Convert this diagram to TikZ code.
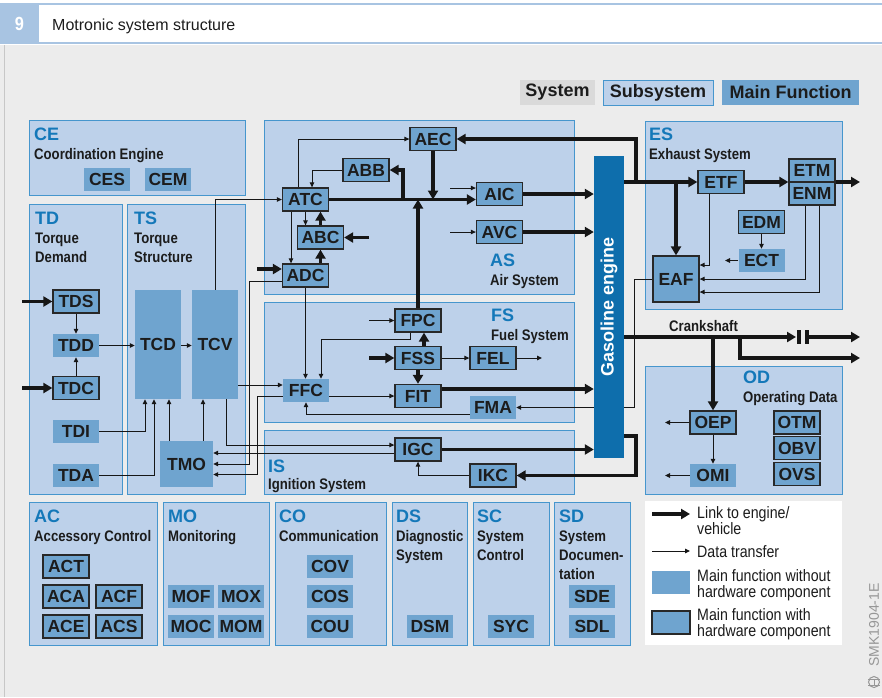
\documentclass[tikz,border=0pt]{standalone}
\usepackage{fontspec}
\setmainfont{Liberation Sans}
\newfontfamily\condfont[FakeStretch=0.86]{Liberation Sans}
\usetikzlibrary{arrows.meta,positioning}
\usepackage{xcolor}

\definecolor{bggray}{RGB}{236,236,236}
\definecolor{subfill}{RGB}{189,209,234}
\definecolor{subline}{RGB}{70,150,205}
\definecolor{mffill}{RGB}{111,164,207}
\definecolor{hwline}{RGB}{40,40,40}
\definecolor{codeblue}{RGB}{20,120,185}
\definecolor{enginec}{RGB}{14,110,172}
\definecolor{textdark}{RGB}{28,28,28}
\definecolor{linkc}{RGB}{22,22,22}
\definecolor{sysgray}{RGB}{218,218,218}
\definecolor{hdrblue}{RGB}{168,196,226}
\definecolor{cgray}{RGB}{150,150,150}

\pgfdeclarelayer{front}
\pgfsetlayers{main,front}

\begin{document}
\begin{tikzpicture}[
        x=1pt, y=-1pt,
        mainfn/.style={fill=mffill, minimum width=46pt, minimum height=23pt, inner sep=0pt, text=textdark, font=\fontsize{17.5}{18}\bfseries},
        mainhw/.style={mainfn, draw=hwline, line width=1.3pt},
        subsys/.style={draw=subline, fill=subfill, line width=0.9pt},
        subcode/.style={anchor=base west, inner sep=0pt, text=codeblue, font=\fontsize{18}{20}\bfseries},
        subname/.style={anchor=base west, inner sep=0pt, align=left, text=textdark, font=\condfont\fontsize{15.3}{19}\bfseries},
        legtext/.style={anchor=base west, inner sep=0pt, align=left, text=textdark, font=\condfont\fontsize{16.5}{16.5}\selectfont},
        toplegend/.style={minimum height=25pt, inner sep=0pt, text=textdark, font=\fontsize{18}{18}\bfseries},
        linkarrow/.style={line width=3.8pt, draw=linkc, -{Triangle[length=9pt,width=10pt]}},
        dataarrow/.style={line width=1pt, draw=linkc, -{Triangle[length=5pt,width=4.5pt]}}
    ]
    \useasboundingbox (0,0) rectangle (882,697);

    % page and header
    \fill[bggray] (0,45) rectangle (882,697);
    \draw[black!22, line width=1.2pt] (4.5,45) -- (4.5,697);
    \draw[hdrblue, line width=1.5pt] (0,4) -- (882,4) (0,43) -- (882,43);
    \fill[hdrblue] (0,4) rectangle (39,43);
    \node (fignum) [text=white, font=\condfont\fontsize{19}{19}\bfseries] at (19.5,24) {9};
    \node (title) [anchor=base west, inner sep=0pt, text=textdark, font=\fontsize{16}{16}\selectfont] at (52,30) {Motronic system structure};

    % top legend
    \node (lgsys) [toplegend, fill=sysgray, minimum width=75pt] at (557.5,92.5) {System};
    \node (lgsub) [toplegend, subsys, minimum width=110pt] at (658,92.5) {Subsystem};
    \node (lgmain) [toplegend, fill=mffill, minimum width=137pt] at (790.5,92.5) {Main Function};

    % subsystems
    \draw[subsys] (29,120) rectangle (245,195);
    \draw[subsys] (29,204) rectangle (122,494);
    \draw[subsys] (127,204) rectangle (245,494);
    \draw[subsys] (264,120) rectangle (574,294);
    \draw[subsys] (264,302) rectangle (574,422);
    \draw[subsys] (264,430) rectangle (574,494);
    \draw[subsys] (645,121) rectangle (842,309);
    \draw[subsys] (645,366) rectangle (842,494);
    \draw[subsys] (29,502) rectangle (157,645);
    \draw[subsys] (163,502) rectangle (269,645);
    \draw[subsys] (275,502) rectangle (386,645);
    \draw[subsys] (392,502) rectangle (467,645);
    \draw[subsys] (473,502) rectangle (549,645);
    \draw[subsys] (554,502) rectangle (630,645);

    % (multi-line names sit on the baseline of their last line)
    \node (ce) [subcode] at (34,140) {CE};
    \node (cename) [subname] at (34,159) {Coordination Engine};
    \node (td) [subcode] at (35,224) {TD};
    \node (tdname) [subname] at (35,262) {Torque\\Demand};
    \node (ts) [subcode] at (134,224) {TS};
    \node (tsname) [subname] at (134,262) {Torque\\Structure};
    \node (as) [subcode] at (490,266) {AS};
    \node (asname) [subname] at (490,285) {Air System};
    \node (fs) [subcode] at (491,321) {FS};
    \node (fsname) [subname] at (491,340) {Fuel System};
    \node (is) [subcode] at (268,472) {IS};
    \node (isname) [subname] at (268,489) {Ignition System};
    \node (es) [subcode] at (649,140) {ES};
    \node (esname) [subname] at (649,159) {Exhaust System};
    \node (od) [subcode] at (743,383) {OD};
    \node (odname) [subname] at (743,402) {Operating Data};
    \node (ac) [subcode] at (34,522) {AC};
    \node (acname) [subname] at (34,541) {Accessory Control};
    \node (mo) [subcode] at (168,522) {MO};
    \node (moname) [subname] at (168,541) {Monitoring};
    \node (co) [subcode] at (279,522) {CO};
    \node (coname) [subname] at (279,541) {Communication};
    \node (ds) [subcode] at (396,522) {DS};
    \node (dsname) [subname] at (396,560) {Diagnostic\\System};
    \node (sc) [subcode] at (477,522) {SC};
    \node (scname) [subname] at (477,560) {System\\Control};
    \node (sd) [subcode] at (559,522) {SD};
    \node (sdname) [subname] at (559,579) {System\\Documen-\\tation};

    % main functions
    \node (ces) [mainfn] at (107,179.5) {CES};
    \node (cem) [mainfn] at (168,179.5) {CEM};
    \node (tds) [mainhw] at (76,301.5) {TDS};
    \node (tdd) [mainfn] at (76,345.5) {TDD};
    \node (tdc) [mainhw] at (76,388) {TDC};
    \node (tdi) [mainfn] at (76,431.5) {TDI};
    \node (tda) [mainfn] at (76,475.5) {TDA};
    \node (tcd) [mainfn, minimum height=109pt] at (158,344.5) {TCD};
    \node (tcv) [mainfn, minimum height=109pt] at (215,344.5) {TCV};
    \node (tmo) [mainfn, minimum width=53pt, minimum height=46pt] at (186.5,464) {TMO};
    \node (aec) [mainhw] at (433,139) {AEC};
    \node (abb) [mainhw] at (366,170) {ABB};
    \node (atc) [mainhw] at (305.5,199.5) {ATC};
    \node (aic) [mainhw] at (499.5,194) {AIC};
    \node (avc) [mainhw] at (499.5,232) {AVC};
    \node (abc) [mainhw] at (320.5,237.5) {ABC};
    \node (adc) [mainhw] at (305.5,275.5) {ADC};
    \node (fpc) [mainhw] at (418,320.5) {FPC};
    \node (fss) [mainhw] at (418,358) {FSS};
    \node (fel) [mainhw] at (493,358) {FEL};
    \node (ffc) [mainfn] at (306,390.5) {FFC};
    \node (fit) [mainhw] at (418,396) {FIT};
    \node (fma) [mainfn] at (493,407.5) {FMA};
    \node (igc) [mainhw] at (418,449.5) {IGC};
    \node (ikc) [mainhw] at (493,475.5) {IKC};
    \node (etf) [mainhw] at (721,182) {ETF};
    \node (etm) [mainhw] at (812,170.5) {ETM};
    \node (enm) [mainhw, below=-1.3pt of etm] {ENM};
    \node (edm) [mainhw] at (761.5,222) {EDM};
    \node (ect) [mainfn] at (761.5,260.5) {ECT};
    \node (eaf) [mainhw, minimum height=46pt] at (676,279) {EAF};
    \node (oep) [mainhw] at (713,422.5) {OEP};
    \node (omi) [mainfn] at (713,475.5) {OMI};
    \node (otm) [mainhw] at (797,422.5) {OTM};
    \node (obv) [mainhw, below=1.5pt of otm] {OBV};
    \node (ovs) [mainhw, below=1.5pt of obv] {OVS};
    \node (act) [mainhw] at (66,566.5) {ACT};
    \node (aca) [mainhw] at (66,596.5) {ACA};
    \node (acf) [mainhw] at (119,596.5) {ACF};
    \node (ace) [mainhw] at (66,626.5) {ACE};
    \node (acs) [mainhw] at (119,626.5) {ACS};
    \node (mof) [mainfn] at (191,596.5) {MOF};
    \node (mox) [mainfn] at (241,596.5) {MOX};
    \node (moc) [mainfn] at (191,626.5) {MOC};
    \node (mom) [mainfn] at (241,626.5) {MOM};
    \node (cov) [mainfn] at (330,566.5) {COV};
    \node (cos) [mainfn] at (330,596.5) {COS};
    \node (cou) [mainfn] at (330,626.5) {COU};
    \node (dsm) [mainfn] at (430,626.5) {DSM};
    \node (syc) [mainfn] at (511,626.5) {SYC};
    \node (sde) [mainfn] at (592,596.5) {SDE};
    \node (sdl) [mainfn] at (592,626.5) {SDL};

    % engine block, kept above the wires
    \begin{pgfonlayer}{front}
    \node (engine) [fill=enginec, minimum width=30pt, minimum height=302pt, inner sep=0pt, text=white, font=\fontsize{18}{18}\bfseries] at (609,307) {\rotatebox{90}{Gasoline engine}};
    \end{pgfonlayer}

    % exhaust path
    \coordinate (exhbend) at (636,182);
    \coordinate (exhout) at (860,182);
    \draw[linkarrow] (engine.east |- etf.west) -- (etf.west);
    \draw[linkarrow] (exhbend) |- (aec.east);
    \draw[linkarrow] (eaf.north |- etf.west) -- (eaf.north);
    \draw[linkarrow] (etf.east) -- (etf.east -| etm.west);
    \draw[linkarrow] (etm.east |- exhout) -- (exhout);
    \draw[dataarrow] ([xshift=-12pt]etf.south) |- ([yshift=14pt]eaf.east);
    \draw[dataarrow] ([xshift=-7pt]enm.south) |- (eaf.east);
    \draw[dataarrow] ([xshift=7pt]enm.south) |- ([yshift=-13pt]eaf.east);
    \draw[dataarrow] (edm.south) -- (ect.north);
    \coordinate (ectout) at (725,260.5);
    \draw[dataarrow] (ect.west) -- (ectout);

    % air system
    \coordinate (abbbend) at (403,199.5);
    \coordinate (abcin) at (369,237.5);
    \coordinate (adcin) at (257,269);
    \coordinate (aicin) at (450,188);
    \coordinate (avcin) at (450,232);
    \draw[linkarrow] (aec.south) -- (aec.south |- atc.east);
    \draw[linkarrow] (atc.east) -- (atc.east -| aic.west);
    \draw[linkarrow] (abbbend) |- (abb.east);
    \draw[linkarrow] (fpc.north) -- (fpc.north |- atc.east);
    \draw[linkarrow] (aic.east) -- (aic.east -| engine.west);
    \draw[linkarrow] (avc.east) -- (avc.east -| engine.west);
    \draw[linkarrow] (abc.north) -- (abc.north |- atc.south);
    \draw[linkarrow] (abc.south |- adc.north) -- (abc.south);
    \draw[linkarrow] (abcin) -- (abc.east);
    \draw[linkarrow] (adcin) -- (adcin -| adc.west);
    \draw[dataarrow] ([xshift=-7.5pt]atc.north) |- (aec.west);
    \draw[dataarrow] (abb.west) -| ([xshift=6.5pt]atc.north);
    \draw[dataarrow] (atc.south) -- (atc.south |- abc.north);
    \draw[dataarrow] ([xshift=-14.5pt]atc.south) -- ([xshift=-14.5pt]adc.north);
    \draw[dataarrow] (tcv.north) |- (atc.west);
    \draw[dataarrow] (aicin) -- (aicin -| aic.west);
    \draw[dataarrow] (avcin) -- (avc.west);

    % fuel system
    \coordinate (fpcin) at (369,320.5);
    \coordinate (fssin) at (369,358);
    \coordinate (felout) at (542,358);
    \coordinate (ffcin) at ([yshift=5.5pt]ffc.west);
    \coordinate (ffcout) at ([yshift=-5.5pt]ffc.east);
    \coordinate (ffcleft) at ([yshift=-5.5pt]ffc.west);
    \coordinate (fitout) at ([yshift=7pt]fit.east);
    \draw[dataarrow] (fpcin) -- (fpc.west);
    \draw[linkarrow] ([xshift=6pt]fss.north) -- ([xshift=6pt]fpc.south);
    \draw[linkarrow] (fss.south) -- (fit.north);
    \draw[linkarrow] (fssin) -- (fss.west);
    \draw[dataarrow] (fss.east) -- (fel.west);
    \draw[dataarrow] (fel.east) -- (felout);
    \draw[dataarrow] (adc.south) -- (adc.south |- ffc.north);
    \draw[dataarrow] ([xshift=-8pt]fpc.south) -- ++(0,7) -| ([xshift=15pt]ffc.north);
    \draw[dataarrow] (tcv.east |- ffcin) -- (ffcin);
    \draw[dataarrow] (ffcout) -- (ffcout -| fit.west);
    \draw[dataarrow] ([yshift=-6.5pt]fma.west) -| (ffc.south);
    \draw[linkarrow] (fitout) -- (fitout -| engine.west);
    \draw[dataarrow] (eaf.west) -- ++(-18,0) |- (fma.east);

    % ignition system
    \coordinate (knkbend) at (636,436);
    \coordinate (igcin) at ([yshift=4.5pt]igc.west);
    \coordinate (igcleft) at ([yshift=-3.5pt]igc.west);
    \draw[linkarrow] (igc.east) -- (igc.east -| engine.west);
    \draw[linkarrow] (engine.east |- knkbend) -- (knkbend) |- (ikc.east);
    \draw[dataarrow] (ikc.west) -| (igc.south);
    \draw[dataarrow] ([xshift=11pt]tcv.south) |- (igcin);
    \draw[dataarrow] (igcleft) -- (igcleft -| tmo.east);
    \draw[dataarrow] ([yshift=-5.5pt]adc.west) -- ++(-32,0) |- (tmo.east);
    \draw[dataarrow] (ffcleft) -- ++(-25,0) |- ([yshift=-10.5pt]tmo.east);

    % torque
    \coordinate (tdsin) at (22,301.5);
    \coordinate (tdcin) at (22,388);
    \draw[linkarrow] (tdsin) -- (tds.west);
    \draw[linkarrow] (tdcin) -- (tdc.west);
    \draw[dataarrow] (tds.south) -- (tdd.north);
    \draw[dataarrow] (tdc.north) -- (tdd.south);
    \draw[dataarrow] (tdd.east) -- (tdd.east -| tcd.west);
    \draw[dataarrow] (tcd.east |- tdd.east) -- (tcv.west |- tdd.east);
    \draw[dataarrow] (tdi.east) -| ([xshift=-13pt]tcd.south);
    \draw[dataarrow] (tda.east) -| ([xshift=-4pt]tcd.south);
    \draw[dataarrow] ([xshift=-17.5pt]tmo.north) -- ([xshift=11pt]tcd.south);
    \draw[dataarrow] ([xshift=16.5pt]tmo.north) -- ([xshift=-12pt]tcv.south);

    % crankshaft and operating data
    \coordinate (crkend) at (796,337);
    \coordinate (clutchb) at (807,337);
    \coordinate (crkout) at (860,337);
    \coordinate (crkbr) at (740,337);
    \coordinate (crkout2) at (860,358);
    \draw[linkarrow] (engine.east |- crkend) -- (crkend);
    \draw[linkc, line width=3.5pt] (799,330) -- (799,344) (clutchb |- 0,330) -- (clutchb |- 0,344);
    \draw[linkarrow] (clutchb) -- (crkout);
    \draw[linkarrow] (crkbr) |- (crkout2);
    \draw[linkarrow] (oep.north |- crkend) -- (oep.north);
    \node (crank) [subname] at (669,331) {Crankshaft};
    \coordinate (oepout) at (665,422.5);
    \coordinate (omiout) at (665,475.5);
    \draw[dataarrow] (oep.west) -- (oepout);
    \draw[dataarrow] (omi.west) -- (omiout);
    \draw[dataarrow] (oep.south) -- (omi.north);

    % legend
    \node (legend) [fill=white, minimum width=197pt, minimum height=144pt, inner sep=0pt, anchor=north west] at (645,501) {};
    \coordinate (lglink) at (652,514);
    \coordinate (lglinkend) at (690,514);
    \coordinate (lgdata) at (652,551);
    \coordinate (lgdataend) at (690,551);
    \draw[linkarrow] (lglink) -- (lglinkend);
    \draw[dataarrow] (lgdata) -- (lgdataend);
    \node (lgplain) [mainfn, minimum width=38pt] at (671,582.5) {};
    \node (lghw) [mainhw, minimum width=38pt] at (671,622.5) {};
    \node (lgtxtlink) [legtext] at (697,534.5) {Link to engine/\\vehicle};
    \node (lgtxtdata) [legtext] at (697,557) {Data transfer};
    \node (lgtxtplain) [legtext] at (697,597.5) {Main function without\\hardware component};
    \node (lgtxthw) [legtext] at (697,636.5) {Main function with\\hardware component};

    % image code
    \node (smk) [rotate=90, inner sep=0pt, text=cgray, font=\fontsize{14}{14}\selectfont] at (874,625) {SMK1904-1E};
    \node (boschlogo) [circle, draw=cgray, line width=1pt, minimum size=11pt, inner sep=0pt] at (874,682) {};
    \draw[cgray, line width=0.9pt] ([yshift=3pt]boschlogo.west) -- ([yshift=3pt]boschlogo.east)
        ([yshift=-3pt]boschlogo.west) -- ([yshift=-3pt]boschlogo.east)
        ([yshift=3pt]boschlogo.center) -- ([yshift=-3pt]boschlogo.center);
\end{tikzpicture}
\end{document}
